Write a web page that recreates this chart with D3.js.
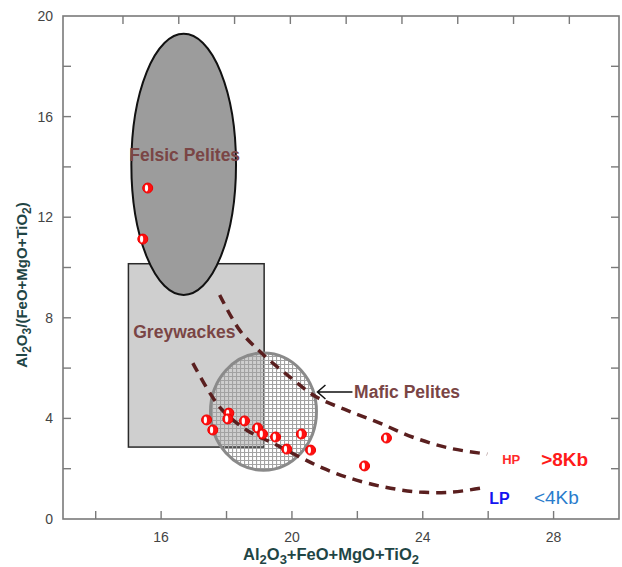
<!DOCTYPE html>
<html>
<head>
<meta charset="utf-8">
<script src="https://cdn.jsdelivr.net/npm/d3@7"></script>
<style>
  body { margin: 0; background: #fff; }
  svg { display: block; font-family: Arial, "Liberation Sans", sans-serif; }
</style>
</head>
<body>
<div id="content"></div>
<script>
// sample points (Al2O3+FeO+MgO+TiO2, Al2O3/(FeO+MgO+TiO2))
var sum_vals   = [15.59, 15.44, 17.39, 17.58, 18.07, 18.04, 18.55, 18.95, 19.10, 19.50, 19.84, 20.29, 20.57, 22.89, 22.22];
var ratio_vals = [13.16, 11.13, 3.94, 3.54, 4.21, 3.98, 3.90, 3.62, 3.38, 3.26, 2.78, 3.38, 2.74, 3.22, 2.11];

// HP (>8Kb) and LP (<4Kb) trend lines
var hp_x = [17.79, 18.40, 19.07, 19.93, 20.75, 21.67, 22.67, 23.68, 24.81, 25.97];
var hp_y = [8.91, 7.51, 6.60, 5.65, 4.85, 4.33, 3.82, 3.26, 2.82, 2.58];
var lp_x = [16.97, 17.79, 18.61, 19.41, 20.23, 20.93, 21.76, 22.83, 23.89, 24.90, 25.79];
var lp_y = [6.20, 4.45, 3.54, 3.02, 2.47, 2.03, 1.63, 1.27, 1.07, 1.07, 1.23];

// source fields: [x0, x1, y0, y1]
var felsic_field = [15.09, 18.29, 8.91, 19.29];
var greywacke_field = [15.0, 19.15, 2.86, 10.15];
var mafic_field = [17.51, 20.75, 1.94, 6.60];

var x_ticks = [14, 16, 18, 20, 22, 24, 26, 28];
var x_labels = [16, 20, 24, 28];
var y_ticks = [2, 4, 6, 8, 10, 12, 14, 16, 18];
var y_labels = [0, 4, 8, 12, 16, 20];
var top_ticks = [0, 1, 2, 3, 4, 5, 6, 7, 8];

var width = 622, height = 567;
var m_left = 63, m_right = 619, m_top = 16, m_bottom = 519;
var tick_len = 8;
var label_colour = "#7a4545";
var frame_colour = "#7a7a7a";

var x = d3.scaleLinear().domain([13, 30]).range([m_left, m_right]);
var y = d3.scaleLinear().domain([0, 20]).range([m_bottom, m_top]);
var x_top = d3.scaleLinear().domain([-1.075, 8.89]).range([m_left, m_right]);

var chart = d3.select("#content")
  .append("svg")
  .attr("width", width)
  .attr("height", height);

var defs = chart.append("defs");
var pat = defs.append("pattern")
  .attr("id", "hatch")
  .attr("patternUnits", "userSpaceOnUse")
  .attr("width", 4)
  .attr("height", 4);
pat.append("path")
  .attr("d", "M0,0.5H4M0.5,0V4")
  .attr("stroke", "#a2a2a2")
  .attr("stroke-width", 1.2)
  .attr("fill", "none");

// greywacke box
chart.append("rect")
  .attr("x", x(greywacke_field[0]))
  .attr("y", y(greywacke_field[3]))
  .attr("width", x(greywacke_field[1]) - x(greywacke_field[0]))
  .attr("height", y(greywacke_field[2]) - y(greywacke_field[3]))
  .attr("fill", "#cfcfcf")
  .attr("stroke", "#2a2a2a")
  .attr("stroke-width", 1.5);

// felsic pelites ellipse
chart.append("ellipse")
  .attr("cx", (x(felsic_field[0]) + x(felsic_field[1])) / 2)
  .attr("cy", (y(felsic_field[2]) + y(felsic_field[3])) / 2)
  .attr("rx", (x(felsic_field[1]) - x(felsic_field[0])) / 2)
  .attr("ry", (y(felsic_field[2]) - y(felsic_field[3])) / 2)
  .attr("fill", "#9c9c9c")
  .attr("stroke", "#111")
  .attr("stroke-width", 2);

// mafic pelites ellipse (hatched, box shows through)
chart.append("ellipse")
  .attr("cx", (x(mafic_field[0]) + x(mafic_field[1])) / 2)
  .attr("cy", (y(mafic_field[2]) + y(mafic_field[3])) / 2)
  .attr("rx", (x(mafic_field[1]) - x(mafic_field[0])) / 2)
  .attr("ry", (y(mafic_field[2]) - y(mafic_field[3])) / 2)
  .attr("fill", "url(#hatch)")
  .attr("stroke", "#8a8a8a")
  .attr("stroke-width", 3);

// dashed trend lines
var curve = d3.line()
  .x(function(d) { return x(d[0]); })
  .y(function(d) { return y(d[1]); })
  .curve(d3.curveCatmullRom);

[[hp_x, hp_y], [lp_x, lp_y]].forEach(function(t) {
    chart.append("path")
      .datum(d3.zip(t[0], t[1]))
      .attr("d", curve)
      .attr("fill", "none")
      .attr("stroke", "#5a1f1f")
      .attr("stroke-width", 3.5)
      .attr("stroke-dasharray", "10,7");
});

// frame
chart.append("rect")
  .attr("x", m_left)
  .attr("y", m_top)
  .attr("width", m_right - m_left)
  .attr("height", m_bottom - m_top)
  .attr("fill", "none")
  .attr("stroke", frame_colour)
  .attr("stroke-width", 1.6);

var ticks = chart.append("g")
  .attr("stroke", frame_colour)
  .attr("stroke-width", 1.4);

x_ticks.forEach(function(t) {
    ticks.append("line")
      .attr("x1", x(t)).attr("x2", x(t))
      .attr("y1", m_bottom).attr("y2", m_bottom - tick_len);
});
top_ticks.forEach(function(t) {
    ticks.append("line")
      .attr("x1", x_top(t)).attr("x2", x_top(t))
      .attr("y1", m_top).attr("y2", m_top + tick_len);
});
y_ticks.forEach(function(t) {
    ticks.append("line")
      .attr("x1", m_left).attr("x2", m_left + tick_len)
      .attr("y1", y(t)).attr("y2", y(t));
    ticks.append("line")
      .attr("x1", m_right).attr("x2", m_right - tick_len)
      .attr("y1", y(t)).attr("y2", y(t));
});

chart.selectAll(".xlab")
  .data(x_labels)
  .enter().append("text")
  .attr("x", function(d) { return x(d); })
  .attr("y", 542)
  .attr("text-anchor", "middle")
  .attr("font-size", "14px")
  .attr("fill", "#444")
  .text(function(d) { return d; });

chart.selectAll(".ylab")
  .data(y_labels)
  .enter().append("text")
  .attr("x", m_left - 10)
  .attr("y", function(d) { return y(d) + 5; })
  .attr("text-anchor", "end")
  .attr("font-size", "14px")
  .attr("fill", "#444")
  .text(function(d) { return d; });

// axis titles with subscripts
function title(sel, parts, sub) {
    parts.forEach(function(p) {
        var ts = sel.append("tspan").text(p[0]);
        if (p[1]) ts.attr("font-size", sub).attr("dy", 4);
        else if (p[2]) ts.attr("dy", -4);
    });
}

var xt = chart.append("text")
  .attr("x", 331)
  .attr("y", 560)
  .attr("text-anchor", "middle")
  .attr("font-size", "16.5px")
  .attr("font-weight", "bold")
  .attr("fill", "#1f4545");
title(xt, [["Al"], ["2", 1], ["O", 0, 1], ["3", 1], ["+FeO+MgO+TiO", 0, 1], ["2", 1]], "13px");

var yt = chart.append("text")
  .attr("transform", "translate(27,285) rotate(-90)")
  .attr("text-anchor", "middle")
  .attr("font-size", "15px")
  .attr("font-weight", "bold")
  .attr("fill", "#1f4545");
title(yt, [["Al"], ["2", 1], ["O", 0, 1], ["3", 1], ["/(FeO+MgO+TiO", 0, 1], ["2", 1], [")", 0, 1]], "12px");

// sample markers: red disc with a white half-moon
var pts = chart.selectAll(".pt")
  .data(d3.zip(sum_vals, ratio_vals))
  .enter().append("g")
  .attr("transform", function(d) { return "translate(" + x(d[0]) + "," + y(d[1]) + ")"; });
pts.append("circle")
  .attr("r", 5)
  .attr("fill", "#ff1010")
  .attr("stroke", "#ee0000")
  .attr("stroke-width", 1);
pts.append("ellipse")
  .attr("cx", -1.2)
  .attr("rx", 1.6)
  .attr("ry", 3.4)
  .attr("fill", "#fff");

// field names
function field_label(txt, xv, yv, anchor) {
    chart.append("text")
      .attr("x", x(xv))
      .attr("y", y(yv) + 6)
      .attr("text-anchor", anchor)
      .attr("font-size", "17.5px")
      .attr("font-weight", "bold")
      .attr("fill", label_colour)
      .text(txt);
}
field_label("Felsic Pelites", 16.72, 14.47, "middle");
field_label("Greywackes", 16.71, 7.44, "middle");
field_label("Mafic Pelites", 21.9, 5.05, "start");

// arrow to mafic field
chart.append("path")
  .attr("d", "M" + x(21.85) + "," + y(5.05) + "H" + x(20.78)
    + "M" + (x(20.78) + 8) + "," + (y(5.05) - 7) + "L" + x(20.78) + "," + y(5.05)
    + "L" + (x(20.78) + 8) + "," + (y(5.05) + 7))
  .attr("fill", "none")
  .attr("stroke", "#111")
  .attr("stroke-width", 1.5);

chart.append("text")
  .attr("x", x(26.43)).attr("y", y(2.39) + 5)
  .attr("font-size", "13px").attr("font-weight", "bold")
  .attr("fill", "#ff2a2a").text("HP");
chart.append("text")
  .attr("x", x(27.62)).attr("y", y(2.39) + 7)
  .attr("font-size", "19px").attr("font-weight", "bold")
  .attr("fill", "#ff1a1a").text(">8Kb");
chart.append("text")
  .attr("x", x(26.03)).attr("y", y(0.83) + 6)
  .attr("font-size", "16px").attr("font-weight", "bold")
  .attr("fill", "#1414f0").text("LP");
chart.append("text")
  .attr("x", x(27.40)).attr("y", y(0.87) + 7)
  .attr("font-size", "19px")
  .attr("fill", "#2a7ccc").text("<4Kb");
</script>
</body>
</html>
